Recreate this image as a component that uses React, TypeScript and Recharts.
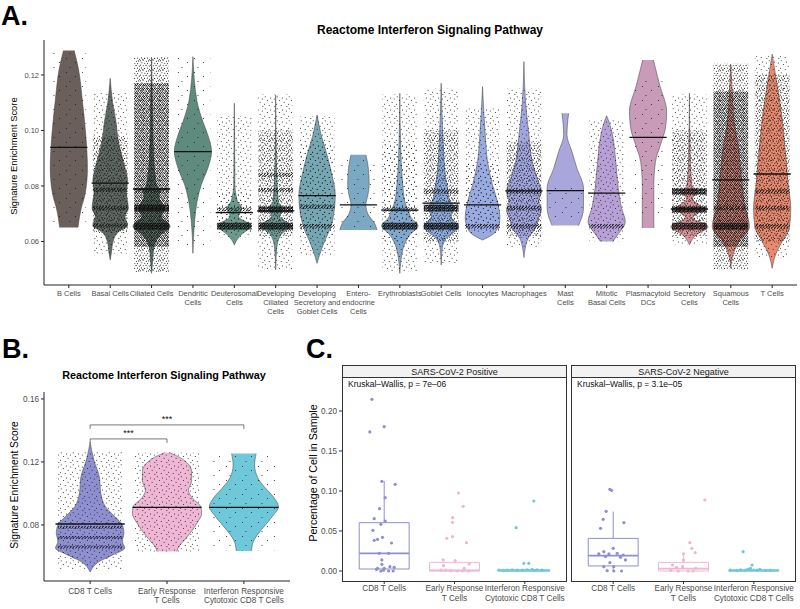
import {
  ComposedChart,
  Area,
  Line,
  Scatter,
  XAxis,
  YAxis,
  ReferenceArea,
  ReferenceLine,
} from 'recharts';

const FONT = '"Liberation Sans", Arial, Helvetica, sans-serif';
const AXIS_TEXT = '#4d4d4d';
const OUTLINE = '#3d3d3d';

// ---------- Panel A: all cell types ----------
const cellTypes = [
  'B Cells', 'Basal Cells', 'Ciliated Cells', 'Dendritic Cells', 'Deuterosomal Cells',
  'Developing Ciliated Cells', 'Developing Secretory and Goblet Cells', 'Enteroendocrine Cells',
  'Erythroblasts', 'Goblet Cells', 'Ionocytes', 'Macrophages', 'Mast Cells',
  'Mitotic Basal Cells', 'Plasmacytoid DCs', 'Secretory Cells', 'Squamous Cells', 'T Cells',
];
const cellTickLines = [
  ['B Cells'], ['Basal Cells'], ['Ciliated Cells'], ['Dendritic', 'Cells'], ['Deuterosomal', 'Cells'],
  ['Developing', 'Ciliated', 'Cells'], ['Developing', 'Secretory and', 'Goblet Cells'],
  ['Entero-', 'endocrine', 'Cells'], ['Erythroblasts'], ['Goblet Cells'], ['Ionocytes'],
  ['Macrophages'], ['Mast', 'Cells'], ['Mitotic', 'Basal Cells'], ['Plasmacytoid', 'DCs'],
  ['Secretory', 'Cells'], ['Squamous', 'Cells'], ['T Cells'],
];
const cellColors = [
  '#6b5f5b', '#5f6862', '#5b7468', '#5f8b7f', '#6a9a8e', '#6c9a95', '#76a6b2', '#7ba8c3',
  '#80a8cc', '#8cacde', '#98aae0', '#a2a6de', '#a9a6dc', '#b7a0d6', '#c89bb8', '#d9949a',
  '#e08f84', '#e88a70',
];
const cellMedians = [
  0.0939, 0.081, 0.0789, 0.0924, 0.0704, 0.071, 0.0765, 0.0732, 0.0713,
  0.0738, 0.0732, 0.0782, 0.0783, 0.0774, 0.0975, 0.0717, 0.0822, 0.0843,
];
// violin outline: [score, half width]
const cellProfiles = [
  [[0.1288, 0.13], [0.1224, 0.23], [0.1104, 0.33], [0.0984, 0.41], [0.0864, 0.45], [0.0768, 0.39], [0.072, 0.3], [0.065, 0.22]],
  [[0.1188, 0], [0.11, 0.06], [0.1032, 0.14], [0.096, 0.2], [0.0888, 0.32], [0.0816, 0.42], [0.078, 0.39], [0.0744, 0.42], [0.072, 0.44], [0.069, 0.36], [0.0657, 0.42], [0.0635, 0.2], [0.06, 0.07], [0.056, 0.03], [0.0533, 0]],
  [[0.126, 0], [0.11, 0.02], [0.095, 0.04], [0.085, 0.08], [0.08, 0.13], [0.0785, 0.2], [0.076, 0.18], [0.072, 0.32], [0.069, 0.24], [0.0655, 0.45], [0.062, 0.19], [0.058, 0.06], [0.052, 0.02], [0.0485, 0]],
  [[0.1266, 0], [0.1104, 0.1], [0.1032, 0.24], [0.0984, 0.36], [0.0924, 0.45], [0.0864, 0.36], [0.0804, 0.2], [0.0744, 0.1], [0.0672, 0.04], [0.0557, 0]],
  [[0.1098, 0], [0.09, 0.01], [0.08, 0.015], [0.0768, 0.04], [0.0744, 0.08], [0.072, 0.18], [0.069, 0.1], [0.0657, 0.4], [0.0623, 0.16], [0.06, 0.04], [0.0587, 0]],
  [[0.1128, 0], [0.09, 0.015], [0.0744, 0.065], [0.072, 0.16], [0.069, 0.1], [0.0657, 0.36], [0.0623, 0.12], [0.0575, 0.025], [0.0497, 0]],
  [[0.1056, 0], [0.0984, 0.1], [0.0912, 0.24], [0.084, 0.36], [0.0768, 0.44], [0.0696, 0.4], [0.0648, 0.32], [0.06, 0.18], [0.0551, 0.06], [0.0521, 0]],
  [[0.0912, 0.18], [0.0864, 0.24], [0.0804, 0.26], [0.0768, 0.23], [0.0732, 0.18], [0.0696, 0.24], [0.0666, 0.39], [0.0641, 0.45]],
  [[0.1134, 0], [0.095, 0.02], [0.0816, 0.065], [0.0744, 0.12], [0.0714, 0.2], [0.0684, 0.28], [0.0657, 0.44], [0.0623, 0.24], [0.0575, 0.08], [0.0485, 0]],
  [[0.117, 0], [0.0984, 0.04], [0.084, 0.1], [0.0786, 0.16], [0.075, 0.2], [0.072, 0.32], [0.069, 0.24], [0.0653, 0.42], [0.0611, 0.12], [0.058, 0.03], [0.0515, 0]],
  [[0.1158, 0], [0.0984, 0.065], [0.0888, 0.12], [0.0804, 0.24], [0.0744, 0.36], [0.0684, 0.42], [0.0636, 0.32], [0.0605, 0]],
  [[0.1248, 0], [0.11, 0.04], [0.0984, 0.12], [0.0888, 0.2], [0.0828, 0.32], [0.078, 0.42], [0.0744, 0.36], [0.0714, 0.42], [0.0678, 0.34], [0.0648, 0.28], [0.0611, 0.1], [0.0575, 0.03], [0.0542, 0]],
  [[0.1062, 0.08], [0.0984, 0.04], [0.0924, 0.16], [0.0864, 0.28], [0.0792, 0.44], [0.072, 0.44], [0.0657, 0.32]],
  [[0.1053, 0], [0.103, 0.06], [0.0984, 0.14], [0.0888, 0.22], [0.0792, 0.28], [0.072, 0.36], [0.0672, 0.45], [0.0623, 0.26], [0.06, 0.15]],
  [[0.1254, 0.13], [0.1164, 0.28], [0.1068, 0.45], [0.1008, 0.42], [0.0948, 0.3], [0.0888, 0.18], [0.0804, 0.14], [0.0648, 0.14]],
  [[0.1134, 0], [0.09, 0.02], [0.08, 0.06], [0.078, 0.2], [0.0755, 0.07], [0.0717, 0.32], [0.0685, 0.08], [0.0653, 0.45], [0.0623, 0.16], [0.0588, 0]],
  [[0.1238, 0], [0.11, 0.05], [0.1044, 0.07], [0.0924, 0.2], [0.0828, 0.26], [0.0744, 0.32], [0.0714, 0.36], [0.0653, 0.45], [0.06, 0.2], [0.0551, 0.05], [0.0503, 0]],
  [[0.1275, 0], [0.1164, 0.12], [0.1044, 0.24], [0.0924, 0.32], [0.0804, 0.39], [0.072, 0.45], [0.0653, 0.42], [0.06, 0.24], [0.0551, 0.08], [0.0503, 0]],
];
// jittered cells: overall spread, denser core, and the dense bands
const jitterLow = [0.066, 0.0555, 0.049, 0.058, 0.0615, 0.05, 0.055, 0.0645, 0.049, 0.052, 0.063, 0.058, 0.068, 0.06, 0.07, 0.059, 0.05, 0.054];
const jitterHigh = [0.1288, 0.1135, 0.1265, 0.127, 0.105, 0.113, 0.105, 0.09, 0.113, 0.115, 0.108, 0.115, 0.08, 0.104, 0.118, 0.113, 0.124, 0.127];
const jitterLevel = [0, 1, 2, 0, 1, 1, 1, 0, 1, 1, 1, 1, 0, 1, 0, 1, 2, 1];
const coreLow = [0, 0.063, 0.058, 0, 0.0635, 0.062, 0.062, 0, 0.06, 0.06, 0.064, 0.062, 0, 0, 0, 0.062, 0.058, 0.06];
const coreHigh = [0, 0.098, 0.117, 0, 0.078, 0.1, 0.095, 0, 0.095, 0.1, 0.088, 0.096, 0, 0, 0, 0.1, 0.114, 0.12];
const coreLevel = [-1, 2, 3, -1, 1, 2, 1, -1, 1, 2, 1, 2, -1, -1, -1, 2, 3, 2];
const bandScores = [
  [], [0.0786, 0.072, 0.0657], [0.0785, 0.072, 0.0655], [], [0.0715, 0.0655],
  [0.084, 0.0785, 0.0715, 0.0655], [0.0725, 0.0655], [], [0.0715, 0.0655],
  [0.078, 0.072, 0.0655], [0.0655], [0.078, 0.072, 0.0655], [], [0.0655], [],
  [0.078, 0.0715, 0.0655], [0.072, 0.0655], [0.078, 0.072, 0.0655],
];
const bandLevels = [
  [], [0, 0, 0], [0, 1, 1], [], [0, 1], [0, 0, 1, 1], [0, 0], [], [0, 1],
  [0, 1, 1], [0], [0, 0, 0], [], [0], [], [1, 1, 1], [0, 1], [0, 0, 0],
];
const scoreTicksA = [0.06, 0.08, 0.1, 0.12];

// ---------- Panel B: T cell subsets ----------
const tTickLines = [['CD8 T Cells'], ['Early Response', 'T Cells'], ['Interferon Responsive', 'Cytotoxic CD8 T Cells']];
const tColors = ['#8e8fd0', '#efb6d5', '#6fc8da'];
const tMedians = [0.0806, 0.0912, 0.0912];
const tProfiles = [
  [[0.1326, 0], [0.121, 0.05], [0.1105, 0.12], [0.1, 0.14], [0.0916, 0.2], [0.0853, 0.32], [0.08, 0.42], [0.0747, 0.44], [0.0695, 0.42], [0.0653, 0.45], [0.0611, 0.3], [0.0568, 0.12], [0.0501, 0]],
  [[0.1259, 0.03], [0.124, 0.12], [0.12, 0.25], [0.114, 0.32], [0.108, 0.32], [0.102, 0.28], [0.097, 0.33], [0.0915, 0.44], [0.087, 0.45], [0.082, 0.4], [0.076, 0.32], [0.07, 0.22], [0.066, 0.15], [0.0632, 0.13]],
  [[0.1253, 0.16], [0.118, 0.14], [0.11, 0.18], [0.104, 0.27], [0.098, 0.38], [0.0915, 0.45], [0.086, 0.38], [0.08, 0.28], [0.074, 0.18], [0.069, 0.12], [0.0635, 0.1]],
];
const tJitterLow = [0.052, 0.063, 0.064];
const tJitterHigh = [0.127, 0.126, 0.125];
const tJitterLevel = [1, 1, 0];
const tBandScores = [[0.0785, 0.072, 0.066], [], []];
const bracketFrom = [1, 1];
const bracketTo = [2, 3];
const bracketY = [0.1346, 0.1435];
const bracketLabels = ['***', '***'];
const scoreTicksB = [0.08, 0.12, 0.16];

// ---------- Panel C: percentage of cells per sample ----------
const facetNames = ['SARS-CoV-2 Positive', 'SARS-CoV-2 Negative'];
const facetTests = ['Kruskal\u2013Wallis, p = 7e\u201306', 'Kruskal\u2013Wallis, p = 3.1e\u201305'];
// [low whisker, q1, median, q3, high whisker] per facet and group
const boxStats = [
  [[0, 0.0025, 0.022, 0.0604, 0.1125], [0, 0, 0.0008, 0.0108, 0.0138], [0, 0, 0.0005, 0.0015, 0.003]],
  [[0, 0.0063, 0.0192, 0.0408, 0.0742], [0, 0, 0.003, 0.0108, 0.0229], [0, 0, 0.0005, 0.0015, 0.0033]],
];
// samples: [jittered group position, percentage]
const samplesPos = [
  [[0.825, 0.2146], [0.796, 0.1738], [1.0, 0.1804], [0.967, 0.1121], [1.156, 0.1083], [1.014, 0.0917], [0.934, 0.0779], [0.858, 0.0654], [1.014, 0.0625], [0.953, 0.0583], [0.839, 0.0508], [0.976, 0.0421], [0.905, 0.0396], [0.858, 0.0383], [1.104, 0.035], [0.929, 0.0221], [1.062, 0.0221], [0.967, 0.0138], [0.967, 0.0083], [0.905, 0.0033], [1.0, 0.0033], [1.081, 0.0054], [1.142, 0.0046], [0.953, 0], [0.99, 0.001], [1.062, 0], [1.128, 0], [0.891, 0.002]],
  [[2.057, 0.0975], [2.123, 0.0808], [1.972, 0.0667], [1.972, 0.0608], [2.171, 0.0354], [1.972, 0.0429], [1.891, 0.0408], [1.839, 0.0138], [1.844, 0.0067], [2.009, 0.0129], [2.209, 0.0088], [2.137, 0.0033], [1.877, 0.001], [1.948, 0.0004], [2.043, 0], [2.114, 0], [2.199, 0], [1.806, 0.001]],
  [[3.128, 0.0875], [2.877, 0.0542], [2.986, 0.0096], [3.057, 0.0096], [2.63, 0.001], [2.749, 0.001], [2.82, 0.0015], [2.891, 0.001], [2.962, 0.001], [3.033, 0.0015], [3.104, 0.002], [3.175, 0.0015], [3.246, 0.001], [2.701, 0.0005], [3.142, 0.0005]],
];
const samplesNeg = [
  [[0.953, 0.1021], [0.976, 0.1008], [0.9, 0.0746], [0.858, 0.0646], [1.152, 0.0604], [0.82, 0.0533], [1.0, 0.0283], [0.867, 0.0242], [0.796, 0.0213], [0.938, 0.0213], [1.057, 0.0221], [1.142, 0.02], [0.891, 0.018], [1.104, 0.0171], [1.175, 0.0138], [0.953, 0.0104], [0.867, 0.0054], [1.009, 0.0054], [0.915, 0.0004], [1.009, 0], [1.118, 0]],
  [[2.303, 0.0888], [2.09, 0.0354], [2.118, 0.0283], [2.166, 0.0229], [2.0, 0.0213], [2.0, 0.0138], [1.844, 0.0075], [1.986, 0.0054], [1.9, 0.0046], [2.175, 0.0033], [1.82, 0.001], [1.924, 0], [2.066, 0], [2.137, 0]],
  [[2.848, 0.0242], [2.976, 0.0075], [2.953, 0.0033], [3.085, 0.002], [2.668, 0.001], [2.763, 0.0005], [2.882, 0.001], [3.047, 0.001], [3.166, 0.0005], [3.237, 0.001], [2.81, 0.0015], [2.915, 0.002]],
];
const percentTicks = [0, 0.05, 0.1, 0.15, 0.2];

// ---------- helpers ----------
const JIT_W = 0.42;
const MED_W = 0.45;
const BOX_W = 0.355;
const jitterFills = ['url(#jit-few)', 'url(#jit-light)', 'url(#jit-mid)', 'url(#jit-heavy)'];
const bandFills = ['url(#band-light)', 'url(#band-heavy)'];

const violinRows = (pos: number, profile: number[][]) =>
  profile.map(([y, w]) => ({ y, r: [pos - w, pos + w] }));
const stripRows = (pos: number, lo: number, hi: number) => [
  { y: hi, r: [pos - JIT_W, pos + JIT_W] },
  { y: lo, r: [pos - JIT_W, pos + JIT_W] },
];
const medianRows = (pos: number, m: number) => [
  { y: m, m: pos - MED_W },
  { y: m, m: pos + MED_W },
];

// dot layouts for the jitter textures (tile size, then dot centres)
const dotTiles: Record<string, { w: number; h: number; r: number; pts: number[][] }> = {
  'jit-few': { w: 16, h: 14, r: 0.5, pts: [[2.5, 2.5], [11.5, 6.5], [6, 11.5]] },
  'jit-light': {
    w: 12, h: 12, r: 0.5,
    pts: [[1.2, 0.8], [6.5, 1.9], [10.3, 3.1], [3.4, 4.6], [8.1, 6.2], [0.6, 8.3], [5.2, 9.4], [10.9, 10.6]],
  },
  'jit-mid': {
    w: 10, h: 10, r: 0.55,
    pts: [[0.5, 0.7], [3.1, 0.3], [6.4, 1.2], [8.7, 0.9], [1.9, 2.8], [4.8, 3.3], [7.6, 3.6], [0.4, 5.1], [3.3, 5.8], [6.1, 5.4], [9.2, 6.1], [1.6, 7.9], [4.6, 8.4], [7.4, 8.1], [9.6, 9.3], [2.9, 9.6]],
  },
  'jit-heavy': {
    w: 8, h: 8, r: 0.6,
    pts: [[0.5, 0.4], [2.6, 0.6], [4.4, 0.3], [6.7, 0.5], [1.5, 1.8], [3.5, 1.6], [5.6, 1.9], [7.5, 1.7], [0.3, 3.0], [2.4, 3.2], [4.8, 2.9], [6.5, 3.1], [1.3, 4.3], [3.7, 4.5], [5.5, 4.2], [7.6, 4.4], [0.6, 5.6], [2.7, 5.8], [4.5, 5.5], [6.8, 5.7], [1.8, 6.9], [3.4, 7.1], [5.8, 6.8], [7.4, 7.2]],
  },
  'band-light': { w: 6, h: 3, r: 0.6, pts: [[0.5, 0.6], [2.1, 1.3], [3.6, 0.5], [5.1, 1.6], [1.2, 2.4], [4.3, 2.5]] },
  'band-heavy': {
    w: 4, h: 3, r: 0.75,
    pts: [[0.5, 0.5], [1.8, 0.9], [3.2, 0.4], [1.0, 1.8], [2.5, 2.0], [3.6, 1.6], [0.3, 2.7], [2.0, 2.9]],
  },
};

function LinesTick(props: any) {
  const { x, y, payload, labels, size, gap, first } = props;
  const lines: string[] = labels[Math.round(payload.value) - 1] || [];
  return (
    <text x={x} y={y} textAnchor="middle" fontSize={size} fill={AXIS_TEXT} fontFamily={FONT}>
      {lines.map((line, k) => (
        <tspan key={k} x={x} dy={k === 0 ? first : gap}>
          {line}
        </tspan>
      ))}
    </text>
  );
}

function Patterns() {
  return (
    <svg width={0} height={0} style={{ position: 'absolute' }}>
      <defs>
        {Object.entries(dotTiles).map(([id, t]) => (
          <pattern key={id} id={id} width={t.w} height={t.h} patternUnits="userSpaceOnUse">
            {t.pts.map(([cx, cy], k) => (
              <circle key={k} cx={cx} cy={cy} r={t.r} fill="#111" />
            ))}
          </pattern>
        ))}
      </defs>
    </svg>
  );
}

const hiddenArea = { dot: false, activeDot: false, isAnimationActive: false, fillOpacity: 1 } as any;

function PanelA() {
  return (
    <ComposedChart
      layout="vertical"
      width={800}
      height={320}
      margin={{ top: 40, right: 3, bottom: 0, left: 0 }}
    >
      <XAxis
        type="number"
        domain={[0.4, 18.6]}
        ticks={cellTypes.map((_, i) => i + 1)}
        interval={0}
        allowDataOverflow
        height={35}
        stroke="#222"
        tickSize={3}
        tickMargin={1}
        tick={(p: any) => <LinesTick {...p} labels={cellTickLines} size={7.5} gap={9} first={6.5} />}
      />
      <YAxis
        type="number"
        dataKey="y"
        reversed
        domain={[0.0443, 0.1326]}
        ticks={scoreTicksA}
        allowDataOverflow
        width={44}
        stroke="#222"
        tickSize={3}
        tickMargin={2}
        tickFormatter={(v: number) => v.toFixed(2)}
        tick={{ fontSize: 7.5, fill: AXIS_TEXT, fontFamily: FONT }}
      />
      {cellProfiles.map((profile, i) => (
        <Area
          key={`violin-${i}`}
          {...hiddenArea}
          data={violinRows(i + 1, profile)}
          dataKey="r"
          type="monotone"
          fill={cellColors[i]}
          stroke={OUTLINE}
          strokeWidth={0.5}
        />
      ))}
      {cellTypes.map((_, i) => (
        <Area
          key={`jit-${i}`}
          {...hiddenArea}
          data={stripRows(i + 1, jitterLow[i], jitterHigh[i])}
          dataKey="r"
          type="linear"
          fill={jitterFills[jitterLevel[i]]}
          stroke="none"
        />
      ))}
      {cellTypes.map((_, i) =>
        coreLevel[i] < 0 ? null : (
          <Area
            key={`core-${i}`}
            {...hiddenArea}
            data={stripRows(i + 1, coreLow[i], coreHigh[i])}
            dataKey="r"
            type="linear"
            fill={jitterFills[coreLevel[i]]}
            stroke="none"
          />
        ),
      )}
      {bandScores.map((bands, i) =>
        bands.map((b, k) => {
          const h = bandLevels[i][k] ? 0.0012 : 0.0008;
          return (
            <Area
              key={`band-${i}-${k}`}
              {...hiddenArea}
              data={stripRows(i + 1, b - h, b + h)}
              dataKey="r"
              type="linear"
              fill={bandFills[bandLevels[i][k]]}
              stroke="none"
            />
          );
        }),
      )}
      {cellMedians.map((m, i) => (
        <Line
          key={`med-${i}`}
          data={medianRows(i + 1, m)}
          dataKey="m"
          type="linear"
          stroke="#111"
          strokeWidth={1.3}
          dot={false}
          activeDot={false}
          isAnimationActive={false}
        />
      ))}
    </ComposedChart>
  );
}

function PanelB() {
  return (
    <ComposedChart
      layout="vertical"
      width={300}
      height={230}
      margin={{ top: 12, right: 10, bottom: 0, left: 0 }}
    >
      <XAxis
        type="number"
        domain={[0.4, 3.6]}
        ticks={[1, 2, 3]}
        interval={0}
        allowDataOverflow
        height={29}
        stroke="#222"
        tickSize={3}
        tickMargin={1}
        tick={(p: any) => <LinesTick {...p} labels={tTickLines} size={8.2} gap={9.5} first={8.5} />}
      />
      <YAxis
        type="number"
        dataKey="y"
        reversed
        domain={[0.0444, 0.1644]}
        ticks={scoreTicksB}
        allowDataOverflow
        width={44}
        stroke="#222"
        tickSize={3}
        tickMargin={2}
        tickFormatter={(v: number) => v.toFixed(2)}
        tick={{ fontSize: 8.2, fill: AXIS_TEXT, fontFamily: FONT }}
      />
      {tProfiles.map((profile, i) => (
        <Area
          key={`tv-${i}`}
          {...hiddenArea}
          data={violinRows(i + 1, profile)}
          dataKey="r"
          type="monotone"
          fill={tColors[i]}
          stroke={OUTLINE}
          strokeWidth={0.5}
        />
      ))}
      {tJitterLow.map((lo, i) => (
        <Area
          key={`tj-${i}`}
          {...hiddenArea}
          data={stripRows(i + 1, lo, tJitterHigh[i])}
          dataKey="r"
          type="linear"
          fill={jitterFills[tJitterLevel[i]]}
          stroke="none"
        />
      ))}
      {tBandScores.map((bands, i) =>
        bands.map((b, k) => (
          <Area
            key={`tb-${i}-${k}`}
            {...hiddenArea}
            data={stripRows(i + 1, b - 0.0009, b + 0.0009)}
            dataKey="r"
            type="linear"
            fill={bandFills[0]}
            stroke="none"
          />
        )),
      )}
      {tMedians.map((m, i) => (
        <Line
          key={`tm-${i}`}
          data={medianRows(i + 1, m)}
          dataKey="m"
          type="linear"
          stroke="#111"
          strokeWidth={1.3}
          dot={false}
          activeDot={false}
          isAnimationActive={false}
        />
      ))}
      {bracketY.map((y, k) => (
        <ReferenceLine
          key={`br-${k}`}
          segment={[{ x: bracketFrom[k], y }, { x: bracketTo[k], y }]}
          stroke="#555"
          strokeWidth={0.8}
          label={{ value: bracketLabels[k], position: 'top', fontSize: 9, fill: '#111', offset: 3 }}
        />
      ))}
      {bracketY.map((y, k) => (
        <ReferenceLine
          key={`brl-${k}`}
          segment={[{ x: bracketFrom[k], y }, { x: bracketFrom[k], y: y - 0.0025 }]}
          stroke="#555"
          strokeWidth={0.8}
        />
      ))}
      {bracketY.map((y, k) => (
        <ReferenceLine
          key={`brr-${k}`}
          segment={[{ x: bracketTo[k], y }, { x: bracketTo[k], y: y - 0.0025 }]}
          stroke="#555"
          strokeWidth={0.8}
        />
      ))}
    </ComposedChart>
  );
}

function Facet({ f, showY, width }: { f: number; showY: boolean; width: number }) {
  const samples = f === 0 ? samplesPos : samplesNeg;
  return (
    <ComposedChart width={width} height={250} margin={{ top: 17, right: showY ? 3 : 4, bottom: 0, left: 0 }}>
      <XAxis
        type="number"
        dataKey="x"
        domain={[0.4, 3.6]}
        ticks={[1, 2, 3]}
        interval={0}
        allowDataOverflow
        height={29}
        axisLine={false}
        stroke="#333"
        tickSize={3}
        tickMargin={1}
        tick={(p: any) => <LinesTick {...p} labels={tTickLines} size={8.2} gap={10} first={6} />}
      />
      <YAxis
        type="number"
        dataKey="y"
        domain={[-0.0125, 0.2425]}
        ticks={percentTicks}
        allowDataOverflow
        hide={!showY}
        width={52}
        axisLine={false}
        stroke="#333"
        tickSize={3}
        tickMargin={2}
        tickFormatter={(v: number) => v.toFixed(2)}
        tick={{ fontSize: 8.2, fill: AXIS_TEXT, fontFamily: FONT }}
      />
      {boxStats[f].map(([lo, q1, med, q3, hi], g) => (
        <ReferenceArea
          key={`box-${g}`}
          x1={g + 1 - BOX_W}
          x2={g + 1 + BOX_W}
          y1={q1}
          y2={q3}
          fill="none"
          fillOpacity={0}
          stroke={tColors[g]}
          strokeWidth={1}
          ifOverflow="visible"
        />
      ))}
      {boxStats[f].map(([lo, q1, med, q3, hi], g) => (
        <ReferenceLine
          key={`wh-${g}`}
          segment={[{ x: g + 1, y: q3 }, { x: g + 1, y: hi }]}
          stroke={tColors[g]}
          strokeWidth={1}
          ifOverflow="visible"
        />
      ))}
      {boxStats[f].map(([lo, q1, med, q3, hi], g) => (
        <ReferenceLine
          key={`wl-${g}`}
          segment={[{ x: g + 1, y: lo }, { x: g + 1, y: q1 }]}
          stroke={tColors[g]}
          strokeWidth={1}
          ifOverflow="visible"
        />
      ))}
      {boxStats[f].map(([lo, q1, med, q3, hi], g) => (
        <ReferenceLine
          key={`md-${g}`}
          segment={[{ x: g + 1 - BOX_W, y: med }, { x: g + 1 + BOX_W, y: med }]}
          stroke={tColors[g]}
          strokeWidth={1.8}
          ifOverflow="visible"
        />
      ))}
      {samples.map((pts, g) => (
        <Scatter
          key={`pts-${g}`}
          data={pts.map(([x, y]) => ({ x, y }))}
          fill={tColors[g]}
          isAnimationActive={false}
          shape={(p: any) => <circle cx={p.cx} cy={p.cy} r={1.6} fill={tColors[g]} />}
        />
      ))}
    </ComposedChart>
  );
}

function Labels() {
  const t = { fontFamily: FONT } as any;
  return (
    <svg width={800} height={609} style={{ position: 'absolute', left: 0, top: 0, pointerEvents: 'none' }}>
      <text x={1} y={25} fontSize={27} fontWeight="bold" {...t}>A.</text>
      <text x={430} y={33.5} fontSize={12} fontWeight="bold" textAnchor="middle" {...t}>
        Reactome Interferon Signaling Pathway
      </text>
      <text transform="translate(16.5,156) rotate(-90)" fontSize={9.4} textAnchor="middle" {...t}>
        Signature Enrichment Score
      </text>
      <text x={2} y={358} fontSize={27} fontWeight="bold" {...t}>B.</text>
      <text x={164} y={379} fontSize={10.8} fontWeight="bold" textAnchor="middle" {...t}>
        Reactome Interferon Signaling Pathway
      </text>
      <text transform="translate(18.3,485) rotate(-90)" fontSize={10.2} textAnchor="middle" {...t}>
        Signature Enrichment Score
      </text>
      <text x={306} y={358} fontSize={27} fontWeight="bold" {...t}>C.</text>
      <text transform="translate(316.5,473) rotate(-90)" fontSize={10.6} textAnchor="middle" {...t}>
        Percentage of Cell in Sample
      </text>
      <text x={454.5} y={375} fontSize={9} textAnchor="middle" fill="#1a1a1a" {...t}>{facetNames[0]}</text>
      <text x={683.5} y={375} fontSize={9} textAnchor="middle" fill="#1a1a1a" {...t}>{facetNames[1]}</text>
      <text x={348} y={386.5} fontSize={8.5} fill="#111" {...t}>{facetTests[0]}</text>
      <text x={577} y={386.5} fontSize={8.5} fill="#111" {...t}>{facetTests[1]}</text>
    </svg>
  );
}

const frame = (left: number, top: number, width: number, height: number, bg: string) => ({
  position: 'absolute' as const,
  left,
  top,
  width,
  height,
  boxSizing: 'border-box' as const,
  border: '1px solid #333',
  background: bg,
  pointerEvents: 'none' as const,
});

export default function App() {
  return (
    <div style={{ position: 'absolute', left: 0, top: 0, width: 800, height: 609, background: '#fff', fontFamily: FONT, overflow: 'hidden' }}>
      <Patterns />
      <div style={{ position: 'absolute', left: 0, top: 0 }}>
        <PanelA />
      </div>
      <div style={{ position: 'absolute', left: 0, top: 380 }}>
        <PanelB />
      </div>
      <div style={frame(342, 365, 225, 13, '#f2f2f2')} />
      <div style={frame(571, 365, 225, 13, '#f2f2f2')} />
      <div style={{ position: 'absolute', left: 290, top: 360 }}>
        <Facet f={0} showY width={280} />
      </div>
      <div style={{ position: 'absolute', left: 571, top: 360 }}>
        <Facet f={1} showY={false} width={229} />
      </div>
      <div style={frame(342, 377, 225, 205, 'transparent')} />
      <div style={frame(571, 377, 225, 205, 'transparent')} />
      <Labels />
    </div>
  );
}
